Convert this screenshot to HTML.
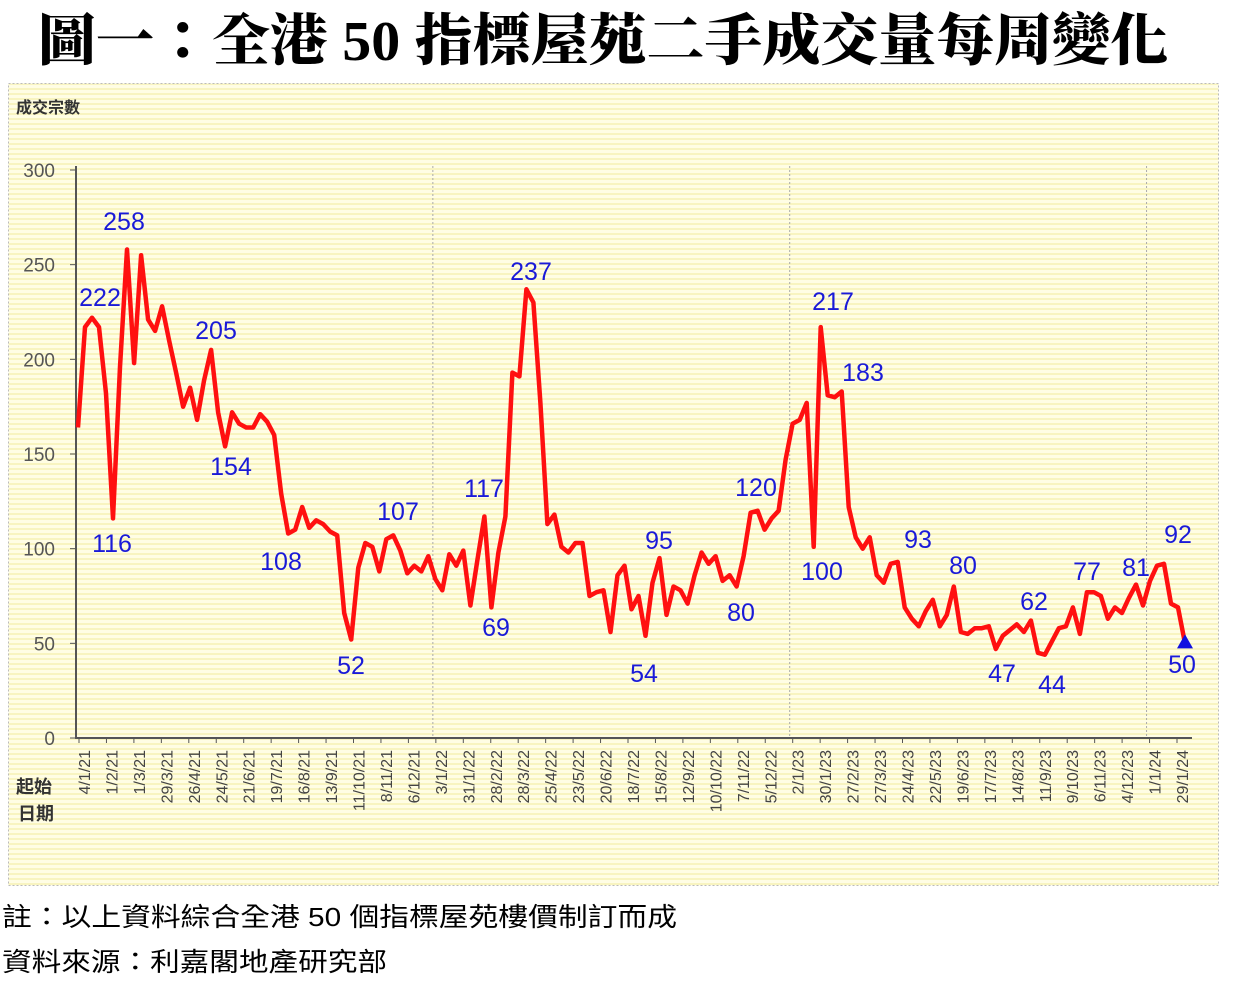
<!DOCTYPE html>
<html><head><meta charset="utf-8">
<style>
html,body{margin:0;padding:0;background:#fff;width:1235px;height:982px;overflow:hidden}
svg{display:block}
</style></head>
<body>
<svg id="chart" width="1235" height="982" viewBox="0 0 1235 982" xmlns="http://www.w3.org/2000/svg">
<defs>
<pattern id="stripes" width="8" height="5" patternUnits="userSpaceOnUse">
<rect width="8" height="5" fill="#fffde4"/><rect y="3" width="8" height="2" fill="#f8f4c0"/>
</pattern>
</defs>
<text x="38" y="60" font-family="'Liberation Serif','Noto Serif CJK TC','Noto Serif CJK SC',serif" font-weight="900" font-size="56" fill="#000" textLength="1130" lengthAdjust="spacingAndGlyphs">圖一：全港 50 指標屋苑二手成交量每周變化</text>
<rect x="8.5" y="83.5" width="1210" height="802" fill="url(#stripes)" stroke="#bbb" stroke-dasharray="2,2"/>
<text x="16" y="113" font-family="'Liberation Sans','Noto Sans CJK TC',sans-serif" font-weight="bold" font-size="16" fill="#333">成交宗數</text>
<g id="grid"></g>
<g id="axes"></g>
<polyline id="line" fill="none" stroke="#ff1010" stroke-width="4.5" stroke-linejoin="round"/>
<g id="labels"></g>
<text x="16" y="793" font-family="'Liberation Sans','Noto Sans CJK TC',sans-serif" font-weight="bold" font-size="18" fill="#333">起始</text>
<text x="18" y="820" font-family="'Liberation Sans','Noto Sans CJK TC',sans-serif" font-weight="bold" font-size="18" fill="#333">日期</text>
<text x="2" y="926" font-family="'Liberation Sans','Noto Sans CJK TC',sans-serif" font-size="26" fill="#000" textLength="675" lengthAdjust="spacingAndGlyphs">註：以上資料綜合全港 50 個指標屋苑樓價制訂而成</text>
<text x="2" y="971" font-family="'Liberation Sans','Noto Sans CJK TC',sans-serif" font-size="26" fill="#000" textLength="385" lengthAdjust="spacingAndGlyphs">資料來源：利嘉閣地產研究部</text>
</svg>
<script>
const values = [164,217,222,217,182,116,196,258,198,255,221,215,228,210,193,175,185,168,189,205,172,154,172,166,164,164,171,167,160,129,108,110,122,111,115,113,109,107,66,52,90,103,101,88,105,107,99,87,91,88,96,84,78,
97,91,99,70,94,117,69,98,117,193,191,237,230,177,113,118,101,98,103,103,75,77,78,56,86,91,68,75,54,82,95,65,80,78,71,86,98,92,96,83,86,80,96,119,120,110,116,120,147,166,168,177,
101,217,181,180,183,122,106,100,106,86,82,92,93,69,63,59,67,73,59,65,80,56,55,58,58,59,47,54,57,60,56,62,45,44,51,58,59,69,55,77,77,75,63,69,66,74,81,70,83,91,92,71,69,50];
const dateLabels = ["4/1/21","1/2/21","1/3/21","29/3/21","26/4/21","24/5/21","21/6/21","19/7/21","16/8/21","13/9/21","11/10/21","8/11/21","6/12/21","3/1/22","31/1/22","28/2/22","28/3/22","25/4/22","23/5/22","20/6/22","18/7/22","15/8/22","12/9/22","10/10/22","7/11/22","5/12/22","2/1/23","30/1/23","27/2/23","27/3/23","24/4/23","22/5/23","19/6/23","17/7/23","14/8/23","11/9/23","9/10/23","6/11/23","4/12/23","1/1/24","29/1/24"];
const yTicks = [0,50,100,150,200,250,300];
const annotations = [["222",100,306],["116",112,552],["258",124,230],["205",216,339],["154",231,475],["108",281,570],["52",351,674],["107",398,520],["117",484,497],["69",496,636],["237",531,280],["54",644,682],["95",659,549],["80",741,621],["120",756,496],["100",822,580],["217",833,310],["183",863,381],["93",918,548],["80",963,574],["47",1002,682],["62",1034,610],["44",1052,693],["77",1087,580],["81",1136,576],["92",1178,543],["50",1182,673]];

const NS="http://www.w3.org/2000/svg";
const y=v=>738-v*(568/300);
const x=i=>78+i*(1185-78)/(values.length-1);
const lx=k=>84+k*(1098/40);
function mk(tag,attrs,parent,text){const e=document.createElementNS(NS,tag);for(const k in attrs)e.setAttribute(k,attrs[k]);if(text!==undefined)e.textContent=text;parent.appendChild(e);return e;}
const grid=document.getElementById('grid'),axes=document.getElementById('axes'),labels=document.getElementById('labels');
[13,26,39].forEach(k=>{
  const g=mk('line',{x1:lx(k)-8,x2:lx(k)-8,y1:166,y2:738,stroke:'#aaa','stroke-dasharray':'2,2'},grid);
  
  
});
const ya=mk('line',{x1:76,x2:76,y1:166,y2:739,stroke:'#555','stroke-width':2},axes);


const xa=mk('line',{x1:75,x2:1192,y1:738,y2:738,stroke:'#555','stroke-width':2},axes);


yTicks.forEach(v=>{
  mk('line',{x1:70,x2:76,y1:y(v),y2:y(v),stroke:'#555'},axes);
  const t=mk('text',{x:55,y:y(v)+7,'text-anchor':'end','font-family':'Liberation Sans,sans-serif','font-size':19,fill:'#555'},axes,String(v));
  
  
});
dateLabels.forEach((d,k)=>{
  mk('line',{x1:lx(k)-5,x2:lx(k)-5,y1:738,y2:743,stroke:'#555'},axes);
  const t=mk('text',{x:0,y:0,transform:`translate(${lx(k)+6},750) rotate(-90)`,'text-anchor':'end','font-family':'Liberation Sans,sans-serif','font-size':16,fill:'#444'},axes,d);
  
  
});
document.getElementById('line').setAttribute('points',values.map((v,i)=>x(i).toFixed(1)+','+y(v).toFixed(1)).join(' '));
const li=values.length-1;
const tri=mk('polygon',{points:`${x(li)},${y(values[li])-9} ${x(li)-8},${y(values[li])+5} ${x(li)+8},${y(values[li])+5}`,fill:'#1010e0'},labels);


annotations.forEach(a=>{
  const t=mk('text',{x:a[1],y:a[2],'text-anchor':'middle','font-family':'Liberation Sans,sans-serif','font-size':25,fill:'#1a1ad8'},labels,a[0]);
  
  
});
</script>
</body></html>
